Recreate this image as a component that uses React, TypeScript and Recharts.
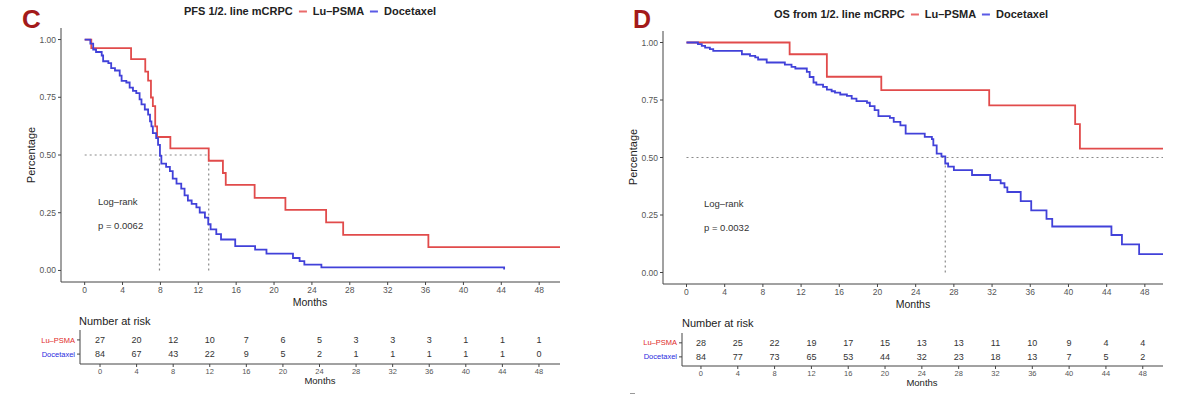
import { LineChart, Line, XAxis, YAxis, ReferenceLine, ComposedChart, Scatter } from 'recharts'

// survival steps as [month, survival probability]
const luPsmaPfs = [
  [0, 1], [0.7, 0.963], [4.9, 0.915], [6.4, 0.861], [6.7, 0.822], [7.0, 0.749], [7.2, 0.712],
  [7.45, 0.624], [7.65, 0.578], [9.05, 0.529], [13.1, 0.475], [14.6, 0.422], [14.9, 0.371],
  [17.95, 0.314], [21.2, 0.262], [25.5, 0.208], [27.3, 0.154], [36.3, 0.101], [50.2, 0.101],
]
const docetaxelPfs = [
  [0, 1], [0.6, 0.982], [0.9, 0.957], [1.2, 0.946], [1.8, 0.931], [1.95, 0.906], [2.5, 0.898],
  [2.8, 0.876], [3.2, 0.866], [3.7, 0.844], [3.9, 0.821], [4.4, 0.814], [4.75, 0.792], [5.1, 0.778],
  [5.45, 0.768], [5.8, 0.741], [6.0, 0.719], [6.35, 0.697], [6.7, 0.675], [6.9, 0.646], [7.05, 0.624],
  [7.2, 0.595], [7.55, 0.573], [7.75, 0.544], [7.95, 0.496], [8.1, 0.463], [8.6, 0.449], [9.0, 0.43],
  [9.3, 0.398], [9.7, 0.376], [10.2, 0.354], [10.55, 0.325], [10.9, 0.303], [11.3, 0.288], [11.8, 0.273],
  [12.15, 0.251], [12.7, 0.229], [13.05, 0.2], [13.3, 0.178], [13.9, 0.157], [14.4, 0.134], [15.9, 0.105],
  [18.0, 0.09], [19.2, 0.073], [22.0, 0.054], [22.7, 0.04], [23.2, 0.025], [25.0, 0.013], [44.3, 0.004],
]
const luPsmaOs = [
  [0, 1], [10.8, 0.949], [14.7, 0.851], [20.4, 0.793], [31.7, 0.727], [40.7, 0.645], [41.2, 0.539], [49.9, 0.539],
]
const docetaxelOs = [
  [0, 1], [1.2, 0.993], [1.6, 0.985], [1.95, 0.978], [2.45, 0.971], [2.8, 0.964], [5.8, 0.949], [6.65, 0.942],
  [7.2, 0.935], [7.5, 0.926], [8.4, 0.913], [10.3, 0.904], [11.0, 0.894], [11.4, 0.887], [12.6, 0.872],
  [12.9, 0.85], [13.3, 0.826], [13.6, 0.817], [14.3, 0.807], [14.7, 0.795], [15.2, 0.788], [15.55, 0.782],
  [16.1, 0.774], [16.8, 0.768], [17.3, 0.756], [17.8, 0.745], [18.9, 0.738], [19.2, 0.723], [19.7, 0.706],
  [20.1, 0.68], [21.3, 0.672], [21.7, 0.655], [22.4, 0.64], [22.95, 0.604], [24.95, 0.59], [25.7, 0.58],
  [25.85, 0.553], [26.2, 0.517], [26.7, 0.505], [27.1, 0.474], [27.4, 0.46], [28.0, 0.445], [29.9, 0.424],
  [31.8, 0.402], [32.9, 0.388], [33.3, 0.37], [33.6, 0.35], [35.0, 0.31], [36.1, 0.27], [37.7, 0.233],
  [38.3, 0.2], [44.5, 0.163], [45.6, 0.122], [47.4, 0.08], [49.9, 0.08],
]

// number at risk every 4 months
const riskMonths = [0, 4, 8, 12, 16, 20, 24, 28, 32, 36, 40, 44, 48]
const luPsmaRiskPfs = [27, 20, 12, 10, 7, 6, 5, 3, 3, 3, 1, 1, 1]
const docetaxelRiskPfs = [84, 67, 43, 22, 9, 5, 2, 1, 1, 1, 1, 1, 0]
const luPsmaRiskOs = [28, 25, 22, 19, 17, 15, 13, 13, 11, 10, 9, 4, 4]
const docetaxelRiskOs = [84, 77, 73, 65, 53, 44, 32, 23, 18, 13, 7, 5, 2]

// median survival (months)
const pfsMedianDocetaxel = 7.9
const pfsMedianLuPsma = 13.1
const osMedianDocetaxel = 27.1

const pTexts = ['p = 0.0062', 'p = 0.0032']

const RED = '#e14b4b'
const BLUE = '#4141d9'
const FONT = '"Liberation Sans", Arial, Helvetica, sans-serif'

const toSteps = (pairs: number[][]) => pairs.map(([t, s]) => ({ t, s }))

type Seg = { x: number; y: number }[]

function SurvivalPlot(props: {
  lu: number[][]
  doc: number[][]
  xDomain: [number, number]
  top: number
  bottom: number
  yAxisWidth: number
  right: number
  segments: Seg[]
}) {
  const { lu, doc, xDomain, top, bottom, yAxisWidth, right, segments } = props
  return (
    <LineChart width={600} height={320} margin={{ top, right, left: 0, bottom }}>
      <XAxis
        type="number"
        dataKey="t"
        domain={xDomain}
        ticks={riskMonths}
        interval={0}
        allowDataOverflow
        height={30}
        tickSize={3}
        tick={{ fontSize: 8.5, fill: '#555', fontFamily: FONT }}
        axisLine={{ stroke: '#444' }}
        tickLine={{ stroke: '#444' }}
      />
      <YAxis
        type="number"
        domain={[-0.05, 1.05]}
        allowDataOverflow
        ticks={[0, 0.25, 0.5, 0.75, 1]}
        interval={0}
        tickFormatter={(v: number) => v.toFixed(2)}
        width={yAxisWidth}
        tickSize={3}
        tick={{ fontSize: 8.5, fill: '#555', fontFamily: FONT }}
        axisLine={{ stroke: '#444' }}
        tickLine={{ stroke: '#444' }}
      />
      {segments.map((seg, i) => (
        <ReferenceLine key={i} segment={seg} stroke="#8a8a8a" strokeWidth={1.2} strokeDasharray="2 3" ifOverflow="visible" />
      ))}
      <Line data={toSteps(lu)} dataKey="s" type="stepAfter" stroke={RED} strokeWidth={1.8} dot={false} isAnimationActive={false} />
      <Line data={toSteps(doc)} dataKey="s" type="stepAfter" stroke={BLUE} strokeWidth={1.8} dot={false} isAnimationActive={false} />
    </LineChart>
  )
}

const CountText = (p: any) => (
  <text x={p.cx} y={p.cy} dy="0.35em" textAnchor="middle" fontSize={9} fill="#333" fontFamily={FONT}>
    {p.payload.n}
  </text>
)

const RowTick = (p: any) => {
  const lu = p.payload.value === 1
  return (
    <text x={p.x} y={p.y} dy="0.35em" textAnchor="end" fontSize={7.5} fill={lu ? '#e02a2a' : '#2a2ae0'} fontFamily={FONT}>
      {lu ? 'Lu–PSMA' : 'Docetaxel'}
    </text>
  )
}

function RiskTable(props: {
  lu: number[]
  doc: number[]
  xDomain: [number, number]
  yDomain: [number, number]
  left: number
  right: number
  bottom: number
}) {
  const { lu, doc, xDomain, yDomain, left, right, bottom } = props
  const luRows = riskMonths.map((t, i) => ({ t, row: 1, n: lu[i] }))
  const docRows = riskMonths.map((t, i) => ({ t, row: 0, n: doc[i] }))
  return (
    <ComposedChart width={600} height={90} margin={{ top: 20, right, left: 0, bottom }}>
      <XAxis
        type="number"
        dataKey="t"
        domain={xDomain}
        ticks={riskMonths}
        interval={0}
        allowDataOverflow
        height={30}
        tickSize={3}
        tick={{ fontSize: 7.5, fill: '#555', fontFamily: FONT }}
        axisLine={{ stroke: '#444' }}
        tickLine={{ stroke: '#444' }}
      />
      <YAxis
        type="number"
        dataKey="row"
        domain={yDomain}
        allowDataOverflow
        ticks={[0, 1]}
        interval={0}
        width={left}
        tickSize={3}
        tick={RowTick}
        axisLine={{ stroke: '#444' }}
        tickLine={{ stroke: '#444' }}
      />
      <Scatter data={luRows} shape={CountText} isAnimationActive={false} />
      <Scatter data={docRows} shape={CountText} isAnimationActive={false} />
    </ComposedChart>
  )
}

const txt = (x: number, y: number, extra: any = {}): any => ({
  position: 'absolute',
  left: x,
  top: y,
  transform: 'translate(0, -50%)',
  whiteSpace: 'nowrap',
  fontFamily: FONT,
  lineHeight: 1,
  ...extra,
})

const Dash = ({ color }: { color: string }) => (
  <span style={{ display: 'inline-block', width: 8, height: 2, background: color, margin: '0 6px', verticalAlign: 'middle' }} />
)

function Title({ x, y, label }: { x: number; y: number; label: string }) {
  return (
    <div style={txt(x, y, { transform: 'translate(-50%, -50%)', fontSize: 11, fontWeight: 700, color: '#222' })}>
      {label}
      <Dash color="#ea6a6a" />
      Lu–PSMA
      <Dash color="#5a5ae6" />
      Docetaxel
    </div>
  )
}

export default function App() {
  return (
    <div style={{ position: 'absolute', left: 0, top: 0, width: 1200, height: 408, background: '#fff', overflow: 'hidden', fontFamily: FONT }}>
      {/* panel C: PFS */}
      <div style={txt(22, 19, { fontSize: 26, fontWeight: 700, color: '#a31a1a' })}>C</div>
      <Title x={310} y={11} label="PFS 1/2. line mCRPC" />
      <div style={{ position: 'absolute', left: 0, top: 0 }}>
        <SurvivalPlot
          lu={luPsmaPfs}
          doc={docetaxelPfs}
          xDomain={[-2.5, 50.2]}
          top={28}
          bottom={8}
          yAxisWidth={61}
          right={40}
          segments={[
            [{ x: 0, y: 0.5 }, { x: pfsMedianLuPsma, y: 0.5 }],
            [{ x: pfsMedianDocetaxel, y: 0 }, { x: pfsMedianDocetaxel, y: 0.5 }],
            [{ x: pfsMedianLuPsma, y: 0 }, { x: pfsMedianLuPsma, y: 0.5 }],
          ]}
        />
      </div>
      <div style={txt(31, 155, { transform: 'translate(-50%, -50%) rotate(-90deg)', fontSize: 11, color: '#222' })}>Percentage</div>
      <div style={txt(310, 302, { transform: 'translate(-50%, -50%)', fontSize: 10.5, color: '#222' })}>Months</div>
      <div style={txt(98, 202, { fontSize: 9.5, color: '#333' })}>Log–rank</div>
      <div style={txt(98, 226, { fontSize: 9.5, color: '#333' })}>{pTexts[0]}</div>
      <div style={txt(79, 321, { fontSize: 11, color: '#222' })}>Number at risk</div>
      <div style={{ position: 'absolute', left: 0, top: 310 }}>
        <RiskTable lu={luPsmaRiskPfs} doc={docetaxelRiskPfs} xDomain={[-2.19, 50.3]} yDomain={[-0.7, 1.7]} left={80} right={40} bottom={6} />
      </div>
      <div style={txt(320, 381, { transform: 'translate(-50%, -50%)', fontSize: 9.5, color: '#222' })}>Months</div>

      {/* panel D: OS */}
      <div style={txt(633, 19, { fontSize: 25, fontWeight: 700, color: '#a31a1a' })}>D</div>
      <Title x={911} y={14} label="OS from 1/2. line mCRPC" />
      <div style={{ position: 'absolute', left: 600, top: 0 }}>
        <SurvivalPlot
          lu={luPsmaOs}
          doc={docetaxelOs}
          xDomain={[-2.46, 49.9]}
          top={31}
          bottom={6}
          yAxisWidth={63}
          right={37}
          segments={[
            [{ x: 0, y: 0.5 }, { x: 49.9, y: 0.5 }],
            [{ x: osMedianDocetaxel, y: 0 }, { x: osMedianDocetaxel, y: 0.5 }],
          ]}
        />
      </div>
      <div style={txt(633, 157, { transform: 'translate(-50%, -50%) rotate(-90deg)', fontSize: 11, color: '#222' })}>Percentage</div>
      <div style={txt(913, 304, { transform: 'translate(-50%, -50%)', fontSize: 10.5, color: '#222' })}>Months</div>
      <div style={txt(704, 204, { fontSize: 9.5, color: '#333' })}>Log–rank</div>
      <div style={txt(704, 228, { fontSize: 9.5, color: '#333' })}>{pTexts[1]}</div>
      <div style={txt(682, 323, { fontSize: 11, color: '#222' })}>Number at risk</div>
      <div style={{ position: 'absolute', left: 600, top: 313 }}>
        <RiskTable lu={luPsmaRiskOs} doc={docetaxelRiskOs} xDomain={[-2.06, 50.2]} yDomain={[-0.65, 1.7]} left={82} right={37} bottom={7} />
      </div>
      <div style={txt(922, 383, { transform: 'translate(-50%, -50%)', fontSize: 9.5, color: '#222' })}>Months</div>
      <div style={{ position: 'absolute', left: 630, top: 393, width: 5, height: 1, background: '#999' }} />
    </div>
  )
}
